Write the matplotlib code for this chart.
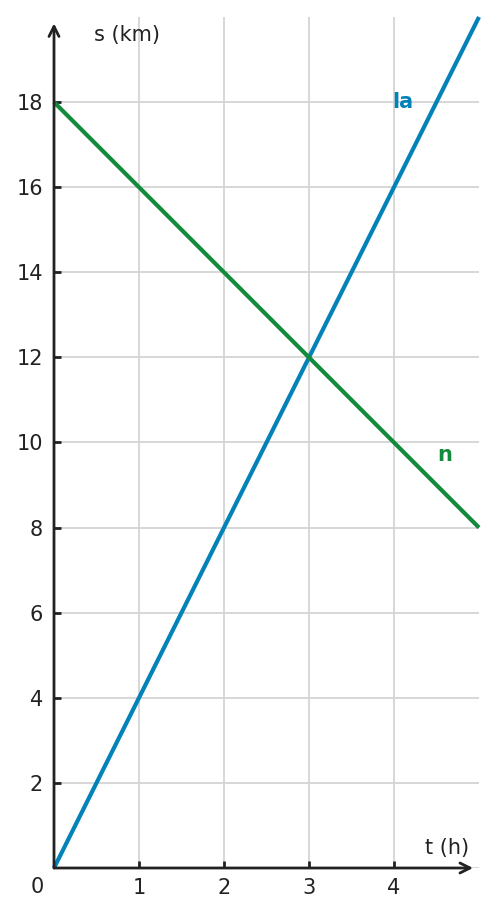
import matplotlib
matplotlib.use("Agg")
import matplotlib.pyplot as plt

# ── Data ──────────────────────────────────────────────────────────────────────
t_vals = [0, 5]
s_la = [0, 20]        # la: s = 4t
s_n = [18, 8]         # n:  s = 18 - 2t
x_ticks = [1, 2, 3, 4]
y_ticks = [2, 4, 6, 8, 10, 12, 14, 16, 18]

BLUE = "#0282b8"
GREEN = "#148a3c"
DARK = "#222222"
GRID = "#d4d4d4"
FS = 15

fig = plt.figure(figsize=(4.97, 9.17), dpi=100)
ax = fig.add_axes([54 / 497, 49 / 917, 425 / 497, 851 / 917])
ax.set_xlim(0, 5)
ax.set_ylim(0, 20)

# grid
for x in x_ticks:
    ax.axvline(x, color=GRID, linewidth=1.3, zorder=0)
for y in [0] + y_ticks:
    ax.axhline(y, color=GRID, linewidth=1.3, zorder=0)

# lines
ax.plot(t_vals, s_la, color=BLUE, linewidth=3, solid_capstyle="butt", zorder=3, clip_on=False)
ax.plot(t_vals, s_n, color=GREEN, linewidth=3, solid_capstyle="butt", zorder=3, clip_on=False)

# axes drawn as arrows
for sp in ax.spines.values():
    sp.set_visible(False)
arrow = dict(arrowstyle="->", color=DARK, lw=2, mutation_scale=18, shrinkA=0, shrinkB=0)
ax.annotate("", xy=(4.93, 0), xytext=(0, 0), arrowprops=arrow,
            annotation_clip=False, zorder=4)
ax.annotate("", xy=(0, 19.85), xytext=(0, 0), arrowprops=arrow,
            annotation_clip=False, zorder=4)

# ticks
ax.set_xticks(x_ticks)
ax.set_yticks(y_ticks)
ax.tick_params(direction="in", length=5, width=2, color=DARK, labelcolor=DARK,
               labelsize=FS)
ax.tick_params(axis="x", pad=7)
ax.tick_params(axis="y", pad=8)
ax.text(-0.2, -0.45, "0", ha="center", va="center", fontsize=FS, color=DARK)

# labels
ax.text(0.47, 19.58, "s (km)", ha="left", va="center", fontsize=FS, color=DARK)
ax.text(4.88, 0.47, "t (h)", ha="right", va="center", fontsize=FS, color=DARK)
ax.text(4.1, 18.0, "la", ha="center", va="center", fontsize=FS,
        fontweight="bold", color=BLUE)
ax.text(4.6, 9.7, "n", ha="center", va="center", fontsize=FS,
        fontweight="bold", color=GREEN)

fig.savefig("out.png", dpi=100)
